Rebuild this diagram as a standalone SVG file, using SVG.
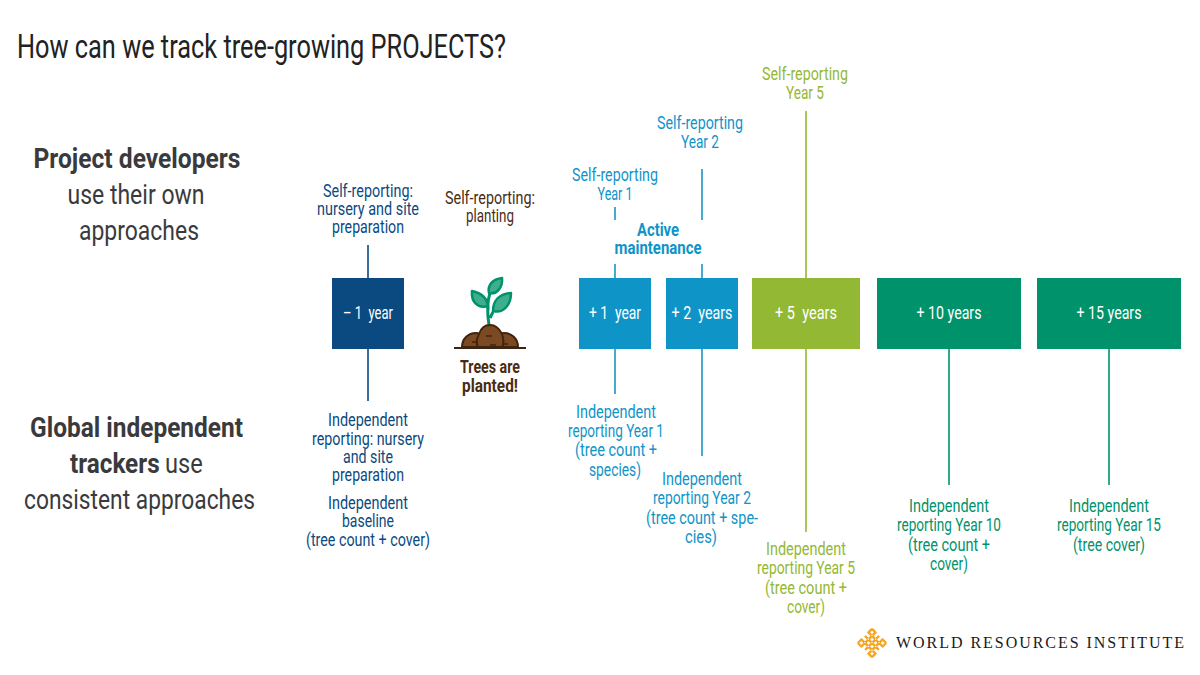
<svg xmlns="http://www.w3.org/2000/svg" width="1200" height="675" viewBox="0 0 1200 675">
<style>
text{font-family:Roboto,"Liberation Sans",sans-serif;text-anchor:middle}
.t{font-size:17.500px}
.h{font-size:27.500px;fill:#3a3a3c}
.b{font-weight:700}
.n{font-size:18px;fill:#fff;font-weight:400}
.navy{fill:#0b4a80}.blue{fill:#0f94c8}.lime{fill:#93b834}.teal{fill:#00936b}.brown{fill:#4a2c12}
.c{fill:none;stroke-width:1.600}
.cn{stroke:#0b4a80}.cb{stroke:#1b95c4}.cl{stroke:#93b834}.ct{stroke:#00936b}
.leaf{fill:#3fae8c;stroke:#00936b;stroke-width:2.500;stroke-linejoin:round}
.soil{fill:#7b4a22;stroke:#3f2410;stroke-width:2}
</style>
<rect width="1200" height="675" fill="#fff"/>
<text x="17" y="58" style="text-anchor:start;font-size:33px;fill:#222" textLength="489" lengthAdjust="spacingAndGlyphs">How can we track tree-growing PROJECTS?</text>
<g id="left-labels">
<text class="h b" x="137" y="168" textLength="207" lengthAdjust="spacingAndGlyphs">Project developers</text>
<text class="h" x="136" y="204" textLength="137" lengthAdjust="spacingAndGlyphs">use their own</text>
<text class="h" x="139" y="240" textLength="120" lengthAdjust="spacingAndGlyphs">approaches</text>
<text class="h b" x="136.500" y="437" textLength="213" lengthAdjust="spacingAndGlyphs">Global independent</text>
<text class="h b" style="text-anchor:start" transform="matrix(.884 0 0 1 70 473)">trackers</text>
<text class="h" style="text-anchor:start" transform="matrix(.86 0 0 1 165 473)">use</text>
<text class="h" x="139.500" y="509" textLength="231" lengthAdjust="spacingAndGlyphs">consistent approaches</text>
</g>
<g id="connectors">
<path class="c cn" d="M368 245V278M368 349V401"/>
<path class="c cb" d="M615 207V220M615 264V278M615 349V394M702 169V220M702 264V278M702 349V456"/>
<path class="c cl" d="M806 111V278M806 349V532"/>
<path class="c ct" d="M949 349V485M1109 349V485"/>
</g>
<g id="node-minus1"><rect class="navy" x="332" y="278" width="72" height="71"/><text class="n" x="368" y="319" textLength="50" lengthAdjust="spacingAndGlyphs" xml:space="preserve">– 1  year</text></g>
<g id="node-plus1"><rect class="blue" x="579" y="278" width="72" height="71"/><text class="n" x="615" y="319" textLength="52" lengthAdjust="spacingAndGlyphs" xml:space="preserve">+ 1  year</text></g>
<g id="node-plus2"><rect class="blue" x="666" y="278" width="72" height="71"/><text class="n" x="702" y="319" textLength="61" lengthAdjust="spacingAndGlyphs" xml:space="preserve">+ 2  years</text></g>
<g id="node-plus5"><rect class="lime" x="752" y="278" width="108" height="71"/><text class="n" x="806" y="319" textLength="62" lengthAdjust="spacingAndGlyphs" xml:space="preserve">+ 5  years</text></g>
<g id="node-plus10"><rect class="teal" x="877" y="278" width="144" height="71"/><text class="n" x="949" y="319" textLength="65" lengthAdjust="spacingAndGlyphs">+ 10 years</text></g>
<g id="node-plus15"><rect class="teal" x="1037" y="278" width="144" height="71"/><text class="n" x="1109" y="319" textLength="65" lengthAdjust="spacingAndGlyphs">+ 15 years</text></g>
<g id="labels-navy">
<text class="t navy" x="368" y="197" textLength="90" lengthAdjust="spacingAndGlyphs">Self-reporting:</text>
<text class="t navy" x="368" y="215" textLength="102" lengthAdjust="spacingAndGlyphs">nursery and site</text>
<text class="t navy" x="368" y="233" textLength="72" lengthAdjust="spacingAndGlyphs">preparation</text>
<text class="t navy" x="368" y="426" textLength="80" lengthAdjust="spacingAndGlyphs">Independent</text>
<text class="t navy" x="368" y="445" textLength="112" lengthAdjust="spacingAndGlyphs">reporting: nursery</text>
<text class="t navy" x="368" y="463" textLength="50" lengthAdjust="spacingAndGlyphs">and site</text>
<text class="t navy" x="368" y="481" textLength="72" lengthAdjust="spacingAndGlyphs">preparation</text>
<text class="t navy" x="368" y="509" textLength="80" lengthAdjust="spacingAndGlyphs">Independent</text>
<text class="t navy" x="368" y="527" textLength="52" lengthAdjust="spacingAndGlyphs">baseline</text>
<text class="t navy" x="368" y="546" textLength="124" lengthAdjust="spacingAndGlyphs">(tree count + cover)</text>
</g>
<g id="label-planting">
<text class="t brown" x="490" y="204" textLength="90" lengthAdjust="spacingAndGlyphs">Self-reporting:</text>
<text class="t brown" x="490" y="222" textLength="48" lengthAdjust="spacingAndGlyphs">planting</text>
</g>
<g id="planted">
<path d="M489 325C487 312 487 302 490 293M488 306V310M493 312L490 318" fill="none" stroke="#00936b" stroke-width="3"/>
<path class="leaf" d="M488 306C487 298 481 293 472 291C471 301 477 309 488 306Z"/>
<path class="leaf" d="M493 311C493 300 500 294 511 293C511 304 504 314 493 311Z"/>
<path class="leaf" d="M489 293C487 285 493 279 502 278C503 287 497 295 489 293Z"/>
<path class="soil" d="M462 347C462 339 468 333 476 333C479 333 481 334 482 335C479 340 481 347 484 347Z"/>
<path class="soil" d="M518 347C518 339 512 333 504 333C501 333 499 334 498 335C501 340 499 347 496 347Z"/>
<path class="soil" d="M479 334C481 328 485 325 490 325C495 325 499 328 502 334C504 340 504 344 502 347H478C476 344 476 340 479 334Z"/>
<path d="M472 342h6M486 336h6M490 345h6M503 344h5" stroke="#3f2410" stroke-width="1.500"/>
<path d="M454 348H526" stroke="#3f2410" stroke-width="2.200"/>
<text class="t brown b" x="490" y="373" textLength="60" lengthAdjust="spacingAndGlyphs">Trees are</text>
<text class="t brown b" x="490" y="392" textLength="56" lengthAdjust="spacingAndGlyphs">planted!</text>
</g>
<g id="labels-blue">
<text class="t blue" x="615" y="181" textLength="86" lengthAdjust="spacingAndGlyphs">Self-reporting</text>
<text class="t blue" x="615" y="200" textLength="35" lengthAdjust="spacingAndGlyphs">Year 1</text>
<text class="t blue" x="700" y="129" textLength="86" lengthAdjust="spacingAndGlyphs">Self-reporting</text>
<text class="t blue" x="700" y="148" textLength="38" lengthAdjust="spacingAndGlyphs">Year 2</text>
<text class="t blue b" x="658" y="236" textLength="42" lengthAdjust="spacingAndGlyphs">Active</text>
<text class="t blue b" x="658" y="254" textLength="87" lengthAdjust="spacingAndGlyphs">maintenance</text>
<text class="t blue" x="616" y="418" textLength="80" lengthAdjust="spacingAndGlyphs">Independent</text>
<text class="t blue" x="616" y="437" textLength="96" lengthAdjust="spacingAndGlyphs">reporting Year 1</text>
<text class="t blue" x="616" y="456" textLength="82" lengthAdjust="spacingAndGlyphs">(tree count +</text>
<text class="t blue" x="615" y="476" textLength="52" lengthAdjust="spacingAndGlyphs">species)</text>
<text class="t blue" x="702" y="485" textLength="80" lengthAdjust="spacingAndGlyphs">Independent</text>
<text class="t blue" x="702" y="504" textLength="98" lengthAdjust="spacingAndGlyphs">reporting Year 2</text>
<text class="t blue" x="702" y="524" textLength="112" lengthAdjust="spacingAndGlyphs">(tree count + spe-</text>
<text class="t blue" x="701" y="543" textLength="32" lengthAdjust="spacingAndGlyphs">cies)</text>
</g>
<g id="labels-lime">
<text class="t lime" x="805" y="80" textLength="86" lengthAdjust="spacingAndGlyphs">Self-reporting</text>
<text class="t lime" x="805" y="99" textLength="38" lengthAdjust="spacingAndGlyphs">Year 5</text>
<text class="t lime" x="806" y="555" textLength="80" lengthAdjust="spacingAndGlyphs">Independent</text>
<text class="t lime" x="806" y="574" textLength="98" lengthAdjust="spacingAndGlyphs">reporting Year 5</text>
<text class="t lime" x="806" y="594" textLength="82" lengthAdjust="spacingAndGlyphs">(tree count +</text>
<text class="t lime" x="806" y="613" textLength="38" lengthAdjust="spacingAndGlyphs">cover)</text>
</g>
<g id="labels-teal">
<text class="t teal" x="949" y="512" textLength="80" lengthAdjust="spacingAndGlyphs">Independent</text>
<text class="t teal" x="949" y="531" textLength="104" lengthAdjust="spacingAndGlyphs">reporting Year 10</text>
<text class="t teal" x="949" y="551" textLength="82" lengthAdjust="spacingAndGlyphs">(tree count +</text>
<text class="t teal" x="949" y="570" textLength="38" lengthAdjust="spacingAndGlyphs">cover)</text>
<text class="t teal" x="1109" y="512" textLength="80" lengthAdjust="spacingAndGlyphs">Independent</text>
<text class="t teal" x="1109" y="531" textLength="104" lengthAdjust="spacingAndGlyphs">reporting Year 15</text>
<text class="t teal" x="1109" y="551" textLength="72" lengthAdjust="spacingAndGlyphs">(tree cover)</text>
</g>
<g id="logo">
<g transform="rotate(45 872 643)" fill="none" stroke="#f5a623" stroke-width="2.400">
<path d="M862 638H882M862 643H882M862 648H882M867 633V653M872 633V653M877 633V653" stroke-dasharray="4 1.200"/>
<path d="M862 633H868M876 633H882M862 653H868M876 653H882M862 633V639M882 633V639M862 647V653M882 647V653"/>
</g>
<text x="896" y="648" style="text-anchor:start;font-family:'Liberation Serif',serif;font-size:16px;fill:#1a1a1a" textLength="288" lengthAdjust="spacing">WORLD RESOURCES INSTITUTE</text>
</g>
</svg>
